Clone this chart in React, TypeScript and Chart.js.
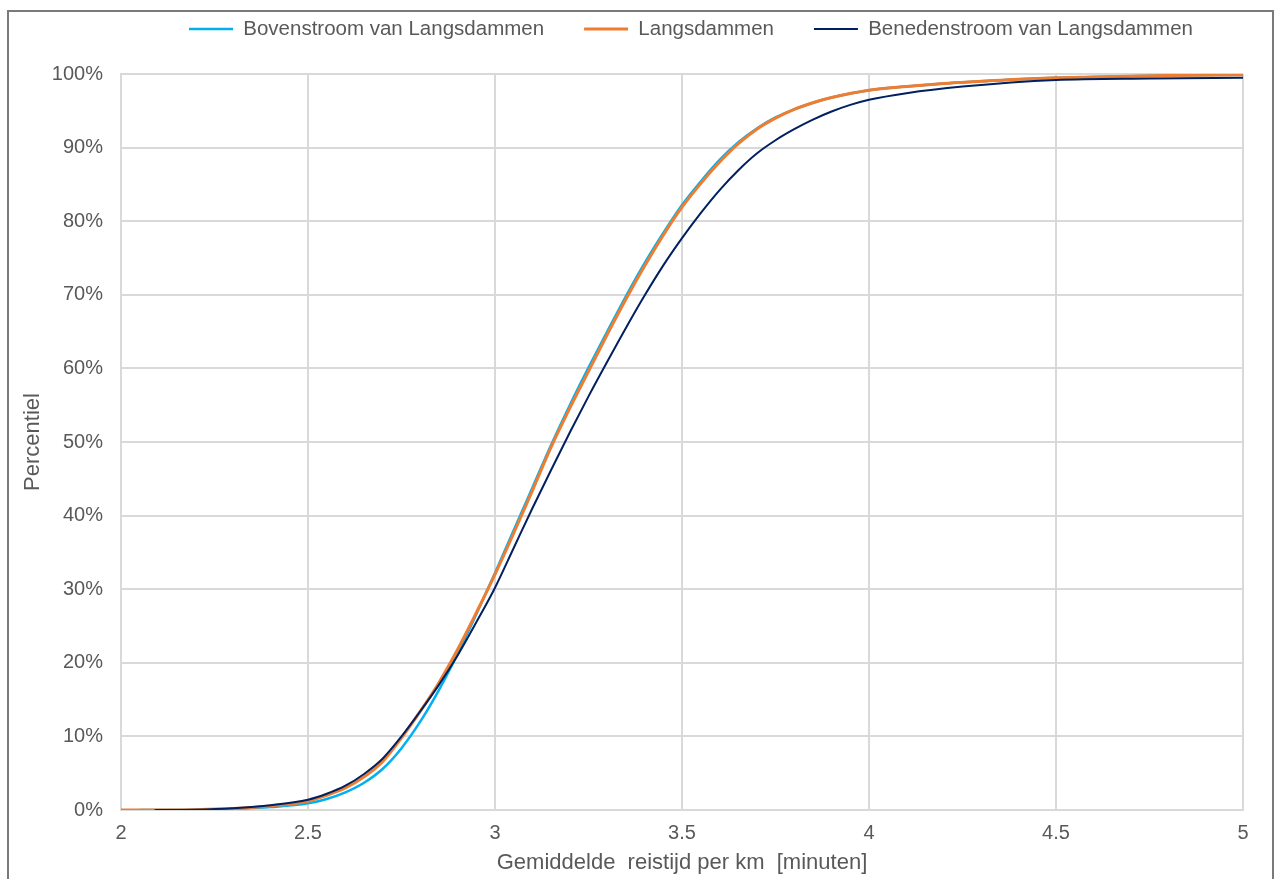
import React, { useEffect, useRef } from "react";
import { Chart, registerables } from "chart.js";

Chart.register(...registerables);

const SERIES_LABELS = [
  "Bovenstroom van Langsdammen",
  "Langsdammen",
  "Benedenstroom van Langsdammen",
];
const SERIES_COLORS = ["#00b0f0", "#ed7d31", "#002060"];

// Bovenstroom van Langsdammen (minutes per km -> percentile %)
const X_BOVEN = [2.05, 2.2, 2.3, 2.4, 2.5, 2.55, 2.6, 2.65, 2.7, 2.75, 2.8, 2.85, 2.9, 2.95, 3.0, 3.05, 3.1, 3.15, 3.2, 3.25, 3.3, 3.35, 3.4, 3.45, 3.5, 3.55, 3.6, 3.65, 3.7, 3.75, 3.8, 3.85, 3.9, 4.0, 4.1, 4.2, 4.3, 4.4, 4.5, 4.6, 4.8, 5.0];
const Y_BOVEN = [0, 0.03, 0.15, 0.4, 0.9, 1.5, 2.4, 3.7, 5.6, 8.4, 12.0, 16.3, 21.2, 26.6, 32.2, 38.0, 43.8, 49.6, 55.0, 60.1, 65.0, 69.8, 74.3, 78.4, 82.2, 85.4, 88.3, 90.7, 92.6, 94.1, 95.2, 96.1, 96.8, 97.8, 98.3, 98.7, 99.0, 99.3, 99.5, 99.6, 99.8, 99.9];

// Langsdammen
const X_LANGS = [2.0, 2.1, 2.2, 2.3, 2.4, 2.5, 2.55, 2.6, 2.65, 2.7, 2.75, 2.8, 2.85, 2.9, 2.95, 3.0, 3.05, 3.1, 3.15, 3.2, 3.25, 3.3, 3.35, 3.4, 3.45, 3.5, 3.55, 3.6, 3.65, 3.7, 3.75, 3.8, 3.85, 3.9, 4.0, 4.1, 4.2, 4.3, 4.4, 4.5, 4.6, 4.8, 5.0];
const Y_LANGS = [0, 0, 0.05, 0.2, 0.55, 1.2, 2.0, 3.0, 4.5, 6.6, 9.8, 13.4, 17.3, 21.8, 26.8, 32.0, 37.6, 43.4, 49.3, 54.6, 59.6, 64.6, 69.4, 73.9, 78.1, 81.9, 85.1, 88.0, 90.5, 92.5, 94.0, 95.2, 96.1, 96.8, 97.8, 98.3, 98.7, 99.0, 99.3, 99.5, 99.6, 99.8, 99.9];

// Benedenstroom van Langsdammen
const X_BENEDEN = [2.09, 2.2, 2.3, 2.4, 2.5, 2.55, 2.6, 2.65, 2.7, 2.75, 2.8, 2.85, 2.9, 2.95, 3.0, 3.05, 3.1, 3.15, 3.2, 3.25, 3.3, 3.35, 3.4, 3.45, 3.5, 3.55, 3.6, 3.65, 3.7, 3.75, 3.8, 3.85, 3.9, 3.95, 4.0, 4.1, 4.25, 4.5, 4.75, 5.0];
const Y_BENEDEN = [0, 0.05, 0.25, 0.65, 1.4, 2.2, 3.3, 4.9, 7.0, 10.0, 13.4, 17.0, 21.0, 25.5, 30.2, 35.6, 41.0, 46.2, 51.3, 56.2, 60.9, 65.5, 69.9, 74.0, 77.7, 81.1, 84.2, 86.9, 89.2, 91.0, 92.5, 93.8, 94.9, 95.8, 96.5, 97.4, 98.3, 99.2, 99.4, 99.5];

const X_TITLE = "Gemiddelde  reistijd per km  [minuten]";
const Y_TITLE = "Percentiel";
const X_MIN = 2;
const X_MAX = 5;
const X_STEP = 0.5;
const Y_MIN = 0;
const Y_MAX = 100;
const Y_STEP = 10;

const toPoints = (xs: number[], ys: number[]) => xs.map((x, i) => ({ x, y: ys[i] }));

export default function App() {
  const ref = useRef<HTMLCanvasElement | null>(null);

  useEffect(() => {
    if (!ref.current) return;
    const FONT = "'Liberation Sans', Arial, sans-serif";
    const TEXT = "#595959";
    const GRID = "#d9d9d9";
    const LEGEND_FS = 20.5;

    const legendTweak = {
      id: "legendTweak",
      beforeLayout(chart: any) {
        const lg = chart.legend;
        if (lg && !lg._patched) {
          const orig = lg.fit;
          lg.fit = function () {
            orig.call(this);
            this.height = 74;
          };
          lg._patched = true;
        }
      },
      afterLayout(chart: any) {
        const lg = chart.legend;
        if (!lg) return;
        const pad = lg.options.labels.padding;
        const lw = lg.lineWidths ? lg.lineWidths[0] : 0;
        const shift = (2 * 189 - pad + lw - (lg.left + lg.right)) / 2;
        lg.left += shift;
        lg.right += shift;
        const newTop = 29 - pad - LEGEND_FS / 2;
        lg.bottom += newTop - lg.top;
        lg.top = newTop;
      },
    };

    const chart = new Chart(ref.current, {
      type: "line",
      data: {
        datasets: [
          {
            label: SERIES_LABELS[0],
            data: toPoints(X_BOVEN, Y_BOVEN),
            borderColor: SERIES_COLORS[0],
            backgroundColor: SERIES_COLORS[0],
            borderWidth: 2.5,
            pointRadius: 0,
            cubicInterpolationMode: "monotone",
            order: 2,
          },
          {
            label: SERIES_LABELS[1],
            data: toPoints(X_LANGS, Y_LANGS),
            borderColor: SERIES_COLORS[1],
            backgroundColor: SERIES_COLORS[1],
            borderWidth: 3,
            pointRadius: 0,
            cubicInterpolationMode: "monotone",
            order: 1,
          },
          {
            label: SERIES_LABELS[2],
            data: toPoints(X_BENEDEN, Y_BENEDEN),
            borderColor: SERIES_COLORS[2],
            backgroundColor: SERIES_COLORS[2],
            borderWidth: 2,
            pointRadius: 0,
            cubicInterpolationMode: "monotone",
            order: 0,
          },
        ],
      },
      options: {
        responsive: false,
        animation: false,
        devicePixelRatio: 1,
        layout: { padding: { left: 0, right: 33, top: 0, bottom: 0 } },
        plugins: {
          tooltip: { enabled: false },
          legend: {
            display: true,
            position: "top",
            align: "center",
            labels: {
              usePointStyle: true,
              pointStyle: "line",
              pointStyleWidth: 44,
              padding: 40,
              color: TEXT,
              font: { family: FONT, size: LEGEND_FS },
              sort: (a: any, b: any) => a.datasetIndex - b.datasetIndex,
            },
          },
        },
        scales: {
          x: {
            type: "linear",
            min: X_MIN,
            max: X_MAX,
            ticks: {
              stepSize: X_STEP,
              color: TEXT,
              font: { family: FONT, size: 20 },
              padding: 11,
              maxRotation: 0,
              autoSkip: false,
              callback: (v: any) => String(v),
            },
            grid: { color: GRID, lineWidth: 2, drawTicks: false },
            border: { color: GRID, width: 2 },
            title: {
              display: true,
              text: X_TITLE,
              color: TEXT,
              font: { family: FONT, size: 22 },
              padding: { top: 0, bottom: 3 },
            },
            afterFit: (s: any) => {
              s.height = 69;
            },
          },
          y: {
            type: "linear",
            min: Y_MIN,
            max: Y_MAX,
            ticks: {
              stepSize: Y_STEP,
              color: TEXT,
              font: { family: FONT, size: 20 },
              padding: 18,
              callback: (v: any) => v + "%",
            },
            grid: { color: GRID, lineWidth: 2, drawTicks: false },
            border: { color: GRID, width: 2 },
            title: {
              display: true,
              text: Y_TITLE,
              color: TEXT,
              font: { family: FONT, size: 22 },
              padding: { top: 20, bottom: 0 },
            },
            afterFit: (s: any) => {
              s.width = 121;
            },
          },
        },
      },
      plugins: [legendTweak],
    } as any);

    return () => chart.destroy();
  }, []);

  return (
    <div
      style={{
        position: "fixed",
        left: 0,
        top: 0,
        width: 1276,
        height: 879,
        background: "#fff",
        overflow: "hidden",
      }}
    >
      <div
        style={{
          position: "absolute",
          left: 7,
          top: 10,
          width: 1267,
          height: 900,
          boxSizing: "border-box",
          borderLeft: "2px solid #7a7a7a",
          borderTop: "2px solid #7a7a7a",
          borderRight: "2px solid #7a7a7a",
        }}
      />
      <canvas
        ref={ref}
        width={1276}
        height={879}
        style={{ position: "absolute", left: 0, top: 0 }}
      />
    </div>
  );
}
